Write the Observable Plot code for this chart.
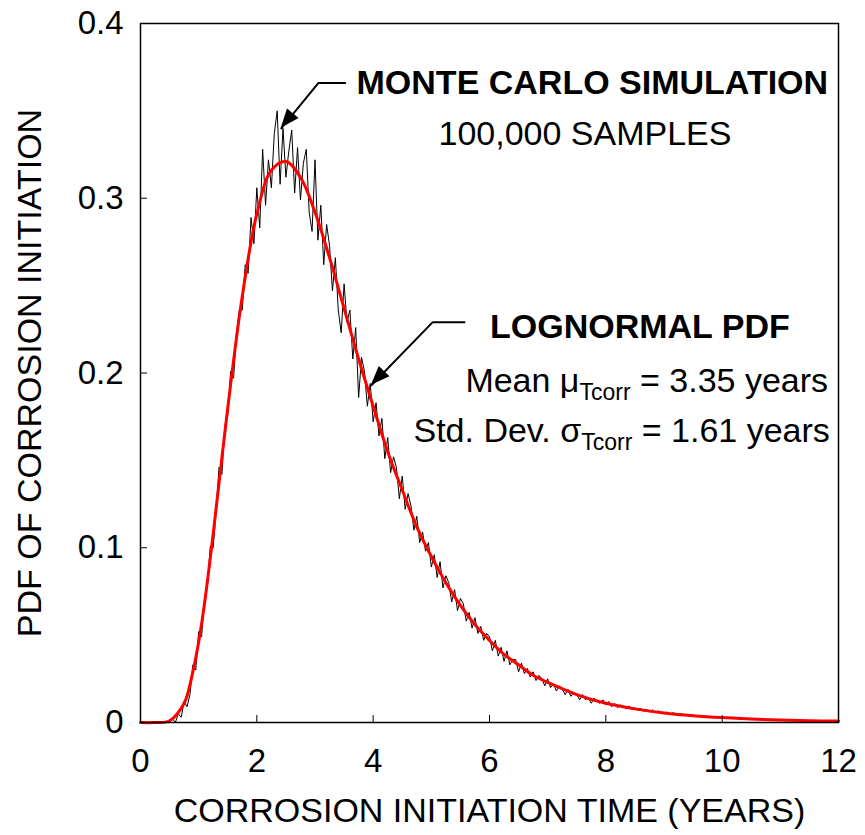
<!DOCTYPE html>
<html>
<head>
<meta charset="utf-8">
<script src="https://cdn.jsdelivr.net/npm/d3@7"></script>
<script src="https://cdn.jsdelivr.net/npm/@observablehq/plot@0.6"></script>
<style>
  html, body { margin: 0; padding: 0; background: white; }
  #chart svg { display: block; }
</style>
</head>
<body>
<div id="chart"></div>
<script>
// ---- Data ----
// Axis ticks
const xTicks = [0, 2, 4, 6, 8, 10, 12];
const xTickLabels = ["0", "2", "4", "6", "8", "10", "12"];
const yTicks = [0, 0.1, 0.2, 0.3, 0.4];
const yTickLabels = ["0", "0.1", "0.2", "0.3", "0.4"];

// Monte Carlo simulation histogram (100,000 samples), x from 0 to 12 every 0.05 years
const mcStart = 0;
const mcStep = 0.05;
const mcY = [
  0, 0, 0, 0, 0, 0, 0, 0, 0, 0,
  0.000, 0.002, 0.000, 0.005, 0.003, 0.012, 0.009, 0.016, 0.033, 0.030,
  0.052, 0.049, 0.071, 0.078, 0.101, 0.100, 0.121, 0.146, 0.142, 0.170,
  0.176, 0.201, 0.197, 0.223, 0.236, 0.236, 0.262, 0.257, 0.289, 0.274,
  0.306, 0.283, 0.328, 0.296, 0.322, 0.306, 0.337, 0.350, 0.308, 0.340,
  0.312, 0.327, 0.339, 0.303, 0.329, 0.299, 0.320, 0.328, 0.292, 0.281,
  0.322, 0.276, 0.296, 0.262, 0.285, 0.273, 0.247, 0.266, 0.236, 0.223,
  0.251, 0.229, 0.236, 0.208, 0.226, 0.186, 0.209, 0.201, 0.181, 0.194,
  0.172, 0.183, 0.164, 0.174, 0.151, 0.163, 0.143, 0.152, 0.146, 0.128,
  0.141, 0.122, 0.131, 0.124, 0.110, 0.118, 0.103, 0.109, 0.098, 0.103,
  0.089, 0.096, 0.083, 0.092, 0.077, 0.084, 0.080, 0.069, 0.076, 0.064,
  0.071, 0.068, 0.058, 0.063, 0.054, 0.060, 0.051, 0.055, 0.047, 0.051,
  0.049, 0.041, 0.047, 0.038, 0.043, 0.035, 0.041, 0.033, 0.036, 0.036,
  0.029, 0.034, 0.028, 0.031, 0.026, 0.029, 0.024, 0.027, 0.025, 0.021,
  0.025, 0.020, 0.022, 0.018, 0.021, 0.019, 0.016, 0.019, 0.015, 0.017,
  0.016, 0.013, 0.016, 0.013, 0.014, 0.011, 0.014, 0.012, 0.011, 0.013,
  0.010, 0.012, 0.009, 0.011, 0.0085, 0.0100, 0.0092, 0.0078, 0.0095, 0.0074,
  0.0083, 0.0070, 0.0081, 0.0064, 0.0075, 0.0060, 0.0072, 0.0057, 0.0066, 0.0059,
  0.0051, 0.0060, 0.0047, 0.0055, 0.0052, 0.0043, 0.0050, 0.0041, 0.0047, 0.0036,
  0.0043, 0.0038, 0.0033, 0.0040, 0.0031, 0.0036, 0.0028, 0.0034, 0.0029, 0.0025,
  0.0031, 0.0024, 0.0029, 0.0022, 0.0027, 0.0023, 0.0019, 0.0025, 0.0019, 0.0022,
  0.0017, 0.0021, 0.0016, 0.0020, 0.0015, 0.0018, 0.0014, 0.0017, 0.0012, 0.0016,
  0.0013, 0.0015, 0.0011, 0.0014, 0.0010, 0.0013, 0.0011, 0.0009, 0.0012, 0.0008,
  0.0011, 0.0008, 0.0010, 0.0007, 0.0009, 0.0008, 0.0006, 0.0009, 0.0006, 0.0008,
  0.0007
];

// Lognormal PDF (fitted curve)
const lnX = [0, 0.25, 0.5, 0.75, 0.9, 1.0, 1.1, 1.25, 1.5, 1.75, 2.0, 2.25, 2.5, 2.75, 3.0, 3.25, 3.5, 3.75, 4.0, 4.25, 4.5, 4.75, 5.0, 5.25, 5.5, 5.75, 6.0, 6.25, 6.5, 6.75, 7.0, 7.5, 8.0, 8.5, 9.0, 9.5, 10, 10.5, 11, 11.5, 12];
const lnY = [0, 0, 0.001, 0.011, 0.029, 0.046, 0.068, 0.108, 0.180, 0.244, 0.291, 0.316, 0.321, 0.312, 0.292, 0.266, 0.237, 0.208, 0.181, 0.155, 0.133, 0.112, 0.095, 0.080, 0.067, 0.056, 0.047, 0.039, 0.033, 0.027, 0.023, 0.016, 0.011, 0.0078, 0.0055, 0.0039, 0.0028, 0.0020, 0.0014, 0.0010, 0.0008];

// Annotation arrows (data units: years, pdf)
const mcArrowX = [3.52, 3.06, 2.42];
const mcArrowY = [0.366, 0.366, 0.340];
const lnArrowX = [5.57, 5.02, 3.97];
const lnArrowY = [0.229, 0.229, 0.193];

// Labels
const yTitle = "PDF OF CORROSION INITIATION";
const xTitle = "CORROSION INITIATION TIME (YEARS)";
const annotations = [
  {x: 11.83, y: 0.366, anchor: "end", bold: true, parts: [["MONTE CARLO SIMULATION", false]]},
  {x: 7.65, y: 0.337, anchor: "middle", bold: false, parts: [["100,000 SAMPLES", false]]},
  {x: 11.17, y: 0.2266, anchor: "end", bold: true, parts: [["LOGNORMAL PDF", false]]},
  {x: 11.83, y: 0.1957, anchor: "end", bold: false, parts: [["Mean μ", false], ["Tcorr", true], [" = 3.35 years", false]]},
  {x: 11.86, y: 0.1671, anchor: "end", bold: false, parts: [["Std. Dev. σ", false], ["Tcorr", true], [" = 1.61 years", false]]}
];

// ---- Build tables ----
const mcData = mcY.map((y, i) => ({x: +(mcStart + i * mcStep).toFixed(2), y}));
const lnData = lnX.map((x, i) => ({x, y: lnY[i]}));
const mcArrow = mcArrowX.map((x, i) => ({x, y: mcArrowY[i]}));
const lnArrow = lnArrowX.map((x, i) => ({x, y: lnArrowY[i]}));

const FONT = "'Liberation Sans', Arial, Helvetica, sans-serif";

const chart = Plot.plot({
  width: 865,
  height: 835,
  marginLeft: 140,
  marginRight: 27,
  marginTop: 23,
  marginBottom: 113,
  x: {domain: [0, 12]},
  y: {domain: [0, 0.4]},
  style: {fontFamily: FONT, fontSize: "33px", color: "black", background: "white", overflow: "visible"},
  marks: [
    Plot.line(mcData, {x: "x", y: "y", stroke: "black", strokeWidth: 1}),
    Plot.line(lnData, {x: "x", y: "y", stroke: "#ff0000", strokeWidth: 3, curve: "catmull-rom"}),
    Plot.frame({stroke: "black", strokeWidth: 1.5}),
    Plot.tickX(xTicks, {x: d => d, stroke: "black", strokeWidth: 1, insetTop: 692}),
    Plot.tickY(yTicks, {y: d => d, stroke: "black", strokeWidth: 1, insetRight: 691}),
    Plot.axisX({ticks: xTicks, tickSize: 0, tickPadding: 26, tickFormat: d => xTickLabels[xTicks.indexOf(d)], label: null, fontSize: 33}),
    Plot.axisY({ticks: yTicks, tickSize: 0, tickPadding: 17, tickFormat: d => yTickLabels[yTicks.findIndex(t => Math.abs(t - d) < 1e-9)], label: null, fontSize: 33}),
    Plot.text([yTitle], {text: d => d, frameAnchor: "left", rotate: -90, dx: -110, fontSize: 34, textAnchor: "middle", lineAnchor: "middle"}),
    Plot.text([xTitle], {text: d => d, frameAnchor: "bottom", dy: 89, fontSize: 34, textAnchor: "middle", lineAnchor: "middle"}),
    Plot.line(mcArrow, {x: "x", y: "y", stroke: "black", strokeWidth: 2}),
    Plot.line(lnArrow, {x: "x", y: "y", stroke: "black", strokeWidth: 2})
  ]
});

document.getElementById("chart").appendChild(chart);

// ---- Annotation texts (with subscripts) and filled arrowheads, positioned via Plot's scales ----
const sx = chart.scale("x"), sy = chart.scale("y");
const svg = d3.select(chart);
const g = svg.append("g").attr("font-family", FONT).attr("fill", "black");

for (const a of annotations) {
  const t = g.append("text")
    .attr("x", sx.apply(a.x))
    .attr("y", sy.apply(a.y))
    .attr("dy", "0.35em")
    .attr("text-anchor", a.anchor)
    .attr("font-size", 34)
    .attr("font-weight", a.bold ? "bold" : "normal");
  let shifted = false;
  for (const [s, sub] of a.parts) {
    const ts = t.append("tspan").text(s);
    if (sub) { ts.attr("font-size", 23).attr("dy", 8); shifted = true; }
    else if (shifted) { ts.attr("dy", -8); shifted = false; }
  }
}

function arrowHead(xs, ys) {
  const n = xs.length;
  const x2 = sx.apply(xs[n - 1]), y2 = sy.apply(ys[n - 1]);
  const x1 = sx.apply(xs[n - 2]), y1 = sy.apply(ys[n - 2]);
  const dx = x2 - x1, dy = y2 - y1, len = Math.hypot(dx, dy);
  const ux = dx / len, uy = dy / len;
  const L = 19, W = 7.5;
  const bx = x2 - ux * L, by = y2 - uy * L;
  const pts = [[x2, y2], [bx - uy * W, by + ux * W], [bx + uy * W, by - ux * W]];
  g.append("polygon").attr("points", pts.map(p => p.join(",")).join(" ")).attr("fill", "black");
}
arrowHead(mcArrowX, mcArrowY);
arrowHead(lnArrowX, lnArrowY);
</script>
</body>
</html>
